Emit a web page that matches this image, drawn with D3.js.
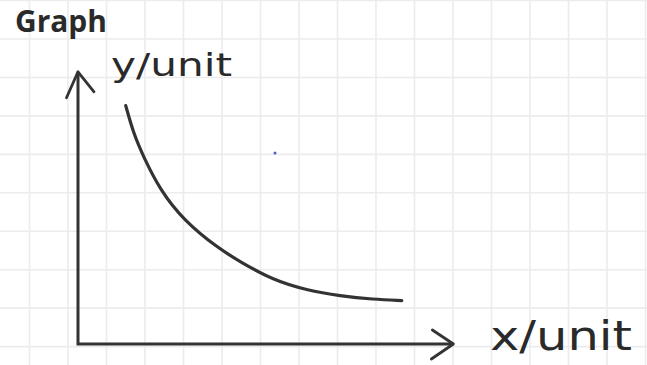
<!DOCTYPE html>
<html>
<head>
<meta charset="utf-8">
<script src="https://cdn.jsdelivr.net/npm/d3@7"></script>
<style>
  html, body { margin: 0; padding: 0; background: #ffffff; }
  svg { display: block; }
</style>
</head>
<body>
<div id="chart"></div>
<script>
// Sketched decay curve on squared paper
const title = "Graph";
const xLabel = "x/unit";
const yLabel = "y/unit";

// Curve samples, in grid units measured from the origin
const xValues = [1.24, 1.44, 1.70, 2.13, 2.74, 3.64, 4.21, 5.07, 5.94, 6.81, 7.67, 8.41];
const yValues = [6.20, 5.48, 4.87, 4.01, 3.22, 2.49, 2.14, 1.66, 1.40, 1.25, 1.16, 1.13];

// Axis extents, in grid units
const xAxisExtent = [0, 9.75];
const yAxisExtent = [0, 7.08];

const W = 647, H = 365;
const svg = d3.select("#chart").append("svg")
  .attr("width", W).attr("height", H);

// one grid cell is one unit
const cellX = 38.5, cellY = 38.45;
const origin = { x: 78, y: 344 };
const x = d3.scaleLinear().domain([0, 1]).range([origin.x, origin.x + cellX]);
const y = d3.scaleLinear().domain([0, 1]).range([origin.y, origin.y - cellY]);

// squared paper background
const paper = svg.append("g").attr("stroke", "#ececef").attr("stroke-width", 1.6);
const gx0 = 29.5, gy0 = 39 - 38.45;
for (let px = gx0; px <= W + 1; px += cellX) {
  paper.append("line").attr("x1", px).attr("x2", px).attr("y1", 0).attr("y2", H);
}
for (let py = gy0; py <= H + 1; py += cellY) {
  paper.append("line").attr("x1", 0).attr("x2", W).attr("y1", py).attr("y2", py);
}

const ink = "#333333";

// axes
const axes = svg.append("g").attr("fill", "none").attr("stroke", ink)
  .attr("stroke-width", 3).attr("stroke-linecap", "round").attr("stroke-linejoin", "round");
axes.append("path")
  .attr("d", `M${x(0)},${y(yAxisExtent[1])} L${x(0)},${y(0)} L${x(xAxisExtent[1])},${y(0)}`)
  .attr("stroke-linejoin", "miter").attr("stroke-linecap", "butt");
// arrow heads
const yt = { x: x(0), y: y(yAxisExtent[1]) };
axes.append("path").attr("d", `M${yt.x - 11.5},${yt.y + 26} L${yt.x},${yt.y} L${yt.x + 16},${yt.y + 20}`)
  .attr("stroke-width", 2.8);
const xt = { x: x(xAxisExtent[1]), y: y(0) };
axes.append("path").attr("d", `M${xt.x - 21},${xt.y - 14} L${xt.x},${xt.y} L${xt.x - 22},${xt.y + 15}`)
  .attr("stroke-width", 2.8);

// curve
const line = d3.line()
  .x((d, i) => x(xValues[i]))
  .y((d, i) => y(yValues[i]))
  .curve(d3.curveBasis);
svg.append("path")
  .datum(xValues)
  .attr("d", line)
  .attr("fill", "none")
  .attr("stroke", ink)
  .attr("stroke-width", 3.2)
  .attr("stroke-linecap", "round");

// stray pen dot
svg.append("circle").attr("cx", 275).attr("cy", 153).attr("r", 1.5).attr("fill", "#5a5ac8");

// text
svg.append("text")
  .attr("x", 15).attr("y", 32)
  .attr("font-family", "'Open Sans', sans-serif")
  .attr("font-weight", 700)
  .attr("font-size", 30)
  .attr("textLength", 92)
  .attr("lengthAdjust", "spacingAndGlyphs")
  .attr("fill", "#2a2a2a")
  .text(title);

svg.append("text")
  .attr("x", 111).attr("y", 76)
  .attr("font-family", "'DejaVu Sans', sans-serif")
  .attr("font-size", 32)
  .attr("textLength", 121)
  .attr("lengthAdjust", "spacingAndGlyphs")
  .attr("fill", "#2a2a2a")
  .text(yLabel);

svg.append("text")
  .attr("x", 490).attr("y", 350)
  .attr("font-family", "'DejaVu Sans', sans-serif")
  .attr("font-size", 40)
  .attr("textLength", 142)
  .attr("lengthAdjust", "spacingAndGlyphs")
  .attr("fill", "#2a2a2a")
  .text(xLabel);
</script>
</body>
</html>
